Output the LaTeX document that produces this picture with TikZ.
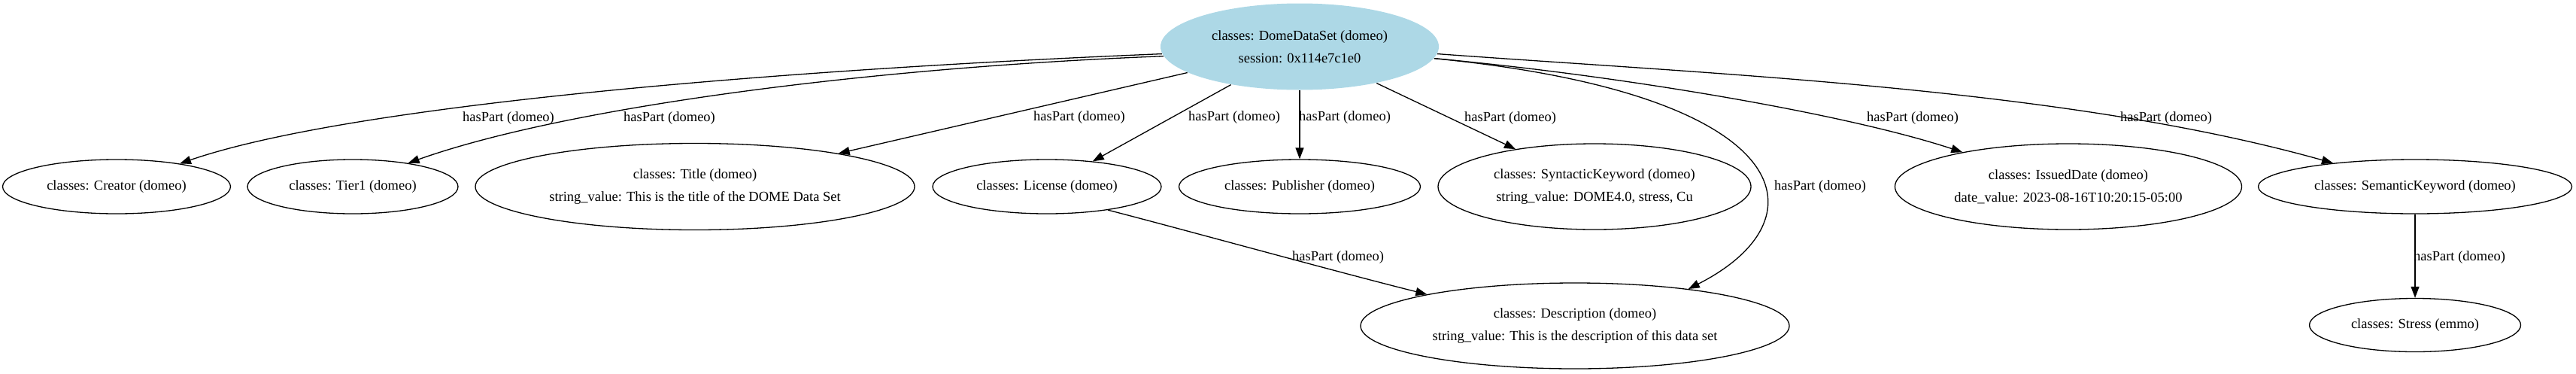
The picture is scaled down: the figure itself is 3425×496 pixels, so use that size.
\documentclass[tikz,border=0pt]{standalone}
\usepackage{fontspec}
\setmainfont{Liberation Serif}
\usetikzlibrary{shapes.geometric,arrows.meta}
\definecolor{rootblue}{HTML}{ADD8E6}
\newcommand\gvfont{\fontsize{18.5}{30}\selectfont}
\begin{document}
\begin{tikzpicture}[x=1pt,y=-1pt,
  box/.style={ellipse, draw=black, line width=1.3pt, inner sep=0pt, align=center, font=\gvfont},
  lbl/.style={font=\gvfont, inner sep=0pt},
  conn/.style={-{Triangle[length=15pt,width=11pt]}, line width=1.3pt}]
\useasboundingbox (0,0) rectangle (3425,496);
\node[box, draw=none, fill=rootblue, minimum width=370pt, minimum height=115pt] (root) at (1728,62) {classes: DomeDataSet (domeo)\\session: 0x114e7c1e0};
\node[box, minimum width=303pt, minimum height=72pt] (creator) at (155,248) {classes: Creator (domeo)};
\node[box, minimum width=280pt, minimum height=72pt] (tier1) at (469,248) {classes: Tier1 (domeo)};
\node[box, minimum width=584pt, minimum height=115pt] (title) at (924,248) {classes: Title (domeo)\\string\_value: This is the title of the DOME Data Set};
\node[box, minimum width=304pt, minimum height=72pt] (license) at (1392,248) {classes: License (domeo)};
\node[box, minimum width=321pt, minimum height=72pt] (publisher) at (1728,248) {classes: Publisher (domeo)};
\node[box, minimum width=416pt, minimum height=114pt] (syntactic) at (2120,248) {classes: SyntacticKeyword (domeo)\\string\_value: DOME4.0, stress, Cu};
\node[box, minimum width=461pt, minimum height=114pt] (issued) at (2750,248) {classes: IssuedDate (domeo)\\date\_value: 2023-08-16T10:20:15-05:00};
\node[box, minimum width=417pt, minimum height=72pt] (semantic) at (3211,248) {classes: SemanticKeyword (domeo)};
\node[box, minimum width=570pt, minimum height=114pt] (description) at (2094,433) {classes: Description (domeo)\\string\_value: This is the description of this data set};
\node[box, minimum width=281pt, minimum height=71pt] (stress) at (3211,432) {classes: Stress (emmo)};

\draw[conn] (root.183) .. controls (1050,92) and (470,138) .. (creator.20);
\draw[conn] (root.184) .. controls (1150,90) and (750,143) .. (tier1.23);
\draw[conn] (root) -- (title);
\draw[conn] (root) -- (license);
\draw[conn] (root) -- (publisher);
\draw[conn] (root) -- (syntactic);
\draw[conn] (root.355) .. controls (2390,125) and (2430,290) .. (description.18);
\draw[conn] (root.355) .. controls (2150,100) and (2450,150) .. (issued.162);
\draw[conn] (root.357) .. controls (2300,100) and (2750,118) .. (semantic.164);
\draw[conn] (license.339) .. controls (1570,304) and (1780,362) .. (description.168);
\draw[conn] (semantic) -- (stress);

\node[lbl] (l1) at (676,157) {hasPart (domeo)};
\node[lbl] (l2) at (890,157) {hasPart (domeo)};
\node[lbl] (l3) at (1435,156) {hasPart (domeo)};
\node[lbl] (l4) at (1641,156) {hasPart (domeo)};
\node[lbl] (l5) at (1788,156) {hasPart (domeo)};
\node[lbl] (l6) at (2008,157) {hasPart (domeo)};
\node[lbl] (l7) at (2420,248) {hasPart (domeo)};
\node[lbl] (l8) at (2543,157) {hasPart (domeo)};
\node[lbl] (l9) at (2880,157) {hasPart (domeo)};
\node[lbl] (l10) at (1779,342) {hasPart (domeo)};
\node[lbl] (l11) at (3270,342) {hasPart (domeo)};
\end{tikzpicture}
\end{document}
